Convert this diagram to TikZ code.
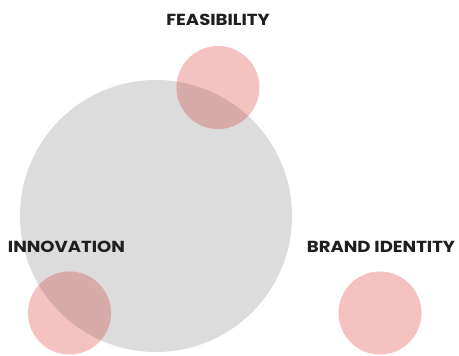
\documentclass[tikz,border=0pt]{standalone}
\usepackage{fontspec}
\setmainfont{Poppins}
\newfontfamily\lblfont[FakeStretch=1.13]{Poppins}
\begin{document}
\begin{tikzpicture}[x=1pt,y=-1pt,
  bigc/.style={circle,fill=bggray,minimum size=272pt,inner sep=0pt},
  smallc/.style={circle,fill=pinkc,minimum size=83pt,inner sep=0pt},
  overc/.style={circle,fill=overlapc,minimum size=83pt,inner sep=0pt},
  lbl/.style={font=\lblfont\bfseries\fontsize{16}{16}\selectfont,text=black!88,inner sep=0pt}]
\definecolor{bggray}{HTML}{DCDCDD}
\definecolor{pinkc}{HTML}{F4C3C1}
\definecolor{overlapc}{HTML}{D8ABAB}
\useasboundingbox (0,0) rectangle (459,356);
\fill[white] (0,0) rectangle (459,356);
\node[bigc] (big) at (156,216) {};
\node[smallc] (feas) at (218,87.5) {};
\node[smallc] (innov) at (69.5,313) {};
\node[smallc] (brand) at (380,313) {};
\begin{scope}
\clip (156,216) circle (136);
\node[overc] (feasov) at (218,87.5) {};
\node[overc] (innovov) at (69.5,313) {};
\end{scope}
\node[lbl] (tfeas) at (218,20) {FEASIBILITY};
\node[lbl] (tinnov) at (66.5,247) {INNOVATION};
\node[lbl] (tbrand) at (381,247) {BRAND IDENTITY};
\end{tikzpicture}
\end{document}
